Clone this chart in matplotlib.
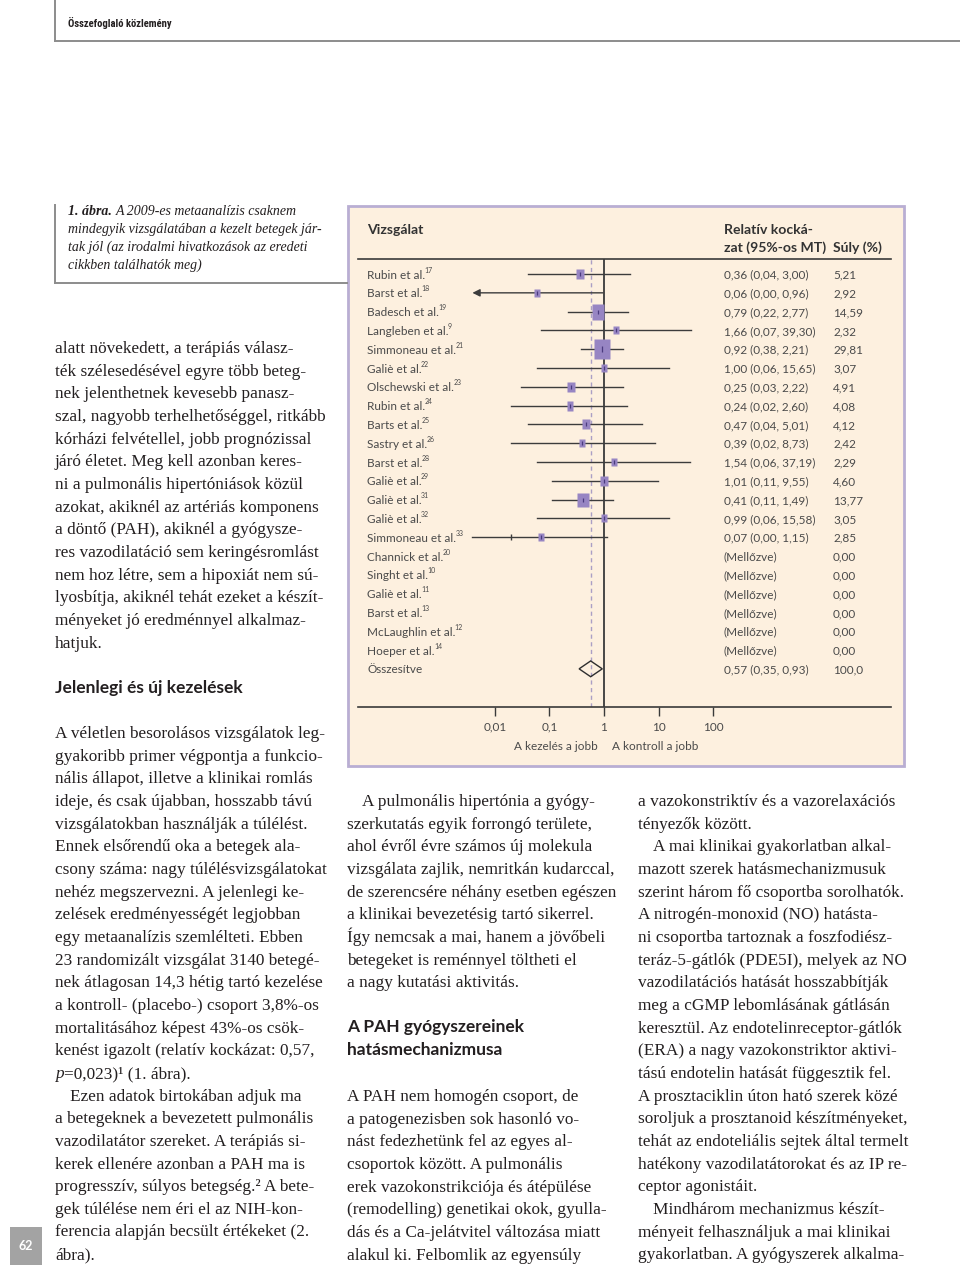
import re
import numpy as np
import matplotlib
matplotlib.use('Agg')
import matplotlib.pyplot as plt
from matplotlib import transforms
from matplotlib.font_manager import FontProperties, findfont
from matplotlib.patches import Rectangle
from matplotlib.lines import Line2D
from matplotlib.path import Path
from matplotlib.ticker import NullLocator

# ---------------- chart data ----------------
studies = ["Rubin et al.", "Barst et al.", "Badesch et al.", "Langleben et al.",
           "Simmoneau et al.", "Galiè et al.", "Olschewski et al.", "Rubin et al.",
           "Barts et al.", "Sastry et al.", "Barst et al.", "Galiè et al.",
           "Galiè et al.", "Galiè et al.", "Simmoneau et al.", "Channick et al.",
           "Singht et al.", "Galiè et al.", "Barst et al.", "McLaughlin et al.",
           "Hoeper et al."]
refs = ["17", "18", "19", "9", "21", "22", "23", "24", "25", "26", "28", "29",
        "31", "32", "33", "20", "10", "11", "13", "12", "14"]
rr = [0.36, 0.06, 0.79, 1.66, 0.92, 1.00, 0.25, 0.24, 0.47, 0.39, 1.54, 1.01,
      0.41, 0.99, 0.07]
ci_lo = [0.04, 0.00, 0.22, 0.07, 0.38, 0.06, 0.03, 0.02, 0.04, 0.02, 0.06, 0.11,
         0.11, 0.06, 0.00]
ci_hi = [3.00, 0.96, 2.77, 39.30, 2.21, 15.65, 2.22, 2.60, 5.01, 8.73, 37.19, 9.55,
         1.49, 15.58, 1.15]
weights = [5.21, 2.92, 14.59, 2.32, 29.81, 3.07, 4.91, 4.08, 4.12, 2.42, 2.29, 4.60,
           13.77, 3.05, 2.85, 0.00, 0.00, 0.00, 0.00, 0.00, 0.00]
pooled_label = "Összesítve"
pooled_rr, pooled_lo, pooled_hi, pooled_w = 0.57, 0.35, 0.93, 100.0
xticks = [0.01, 0.1, 1, 10, 100]
xtick_labels = ["0,01", "0,1", "1", "10", "100"]
excluded_text = "(Mellőzve)"
stray_tick = (14, 0.02)   # small tick seen on the Simmoneau et al.33 line

# ---------------- page text ----------------
caption_lines = ["**1. ábra.** A 2009-es metaanalízis csaknem",
                 "mindegyik vizsgálatában a kezelt betegek jár-",
                 "tak jól (az irodalmi hivatkozások az eredeti",
                 "cikkben találhatók meg)"]
left_par1 = ["alatt növekedett, a terápiás válasz-",
             "ték szélesedésével egyre több beteg-",
             "nek jelenthetnek kevesebb panasz-",
             "szal, nagyobb terhelhetőséggel, ritkább",
             "kórházi felvétellel, jobb prognózissal",
             "járó életet. Meg kell azonban keres-",
             "ni a pulmonális hipertóniások közül",
             "azokat, akiknél az artériás komponens",
             "a döntő (PAH), akiknél a gyógysze-",
             "res vazodilatáció sem keringésromlást",
             "nem hoz létre, sem a hipoxiát nem sú-",
             "lyosbítja, akiknél tehát ezeket a készít-",
             "ményeket jó eredménnyel alkalmaz-",
             "hatjuk."]
left_heading = "Jelenlegi és új kezelések"
left_par2 = ["A véletlen besorolásos vizsgálatok leg-",
             "gyakoribb primer végpontja a funkcio-",
             "nális állapot, illetve a klinikai romlás",
             "ideje, és csak újabban, hosszabb távú",
             "vizsgálatokban használják a túlélést.",
             "Ennek elsőrendű oka a betegek ala-",
             "csony száma: nagy túlélésvizsgálatokat",
             "nehéz megszervezni. A jelenlegi ke-",
             "zelések eredményességét legjobban",
             "egy metaanalízis szemlélteti. Ebben",
             "23 randomizált vizsgálat 3140 betegé-",
             "nek átlagosan 14,3 hétig tartó kezelése",
             "a kontroll- (placebo-) csoport 3,8%-os",
             "mortalitásához képest 43%-os csök-",
             "kenést igazolt (relatív kockázat: 0,57,",
             "*p*=0,023)¹ (1. ábra).",
             "\tEzen adatok birtokában adjuk ma",
             "a betegeknek a bevezetett pulmonális",
             "vazodilatátor szereket. A terápiás si-",
             "kerek ellenére azonban a PAH ma is",
             "progresszív, súlyos betegség.² A bete-",
             "gek túlélése nem éri el az NIH-kon-",
             "ferencia alapján becsült értékeket (2.",
             "ábra)."]
mid_par1 = ["\tA pulmonális hipertónia a gyógy-",
            "szerkutatás egyik forrongó területe,",
            "ahol évről évre számos új molekula",
            "vizsgálata zajlik, nemritkán kudarccal,",
            "de szerencsére néhány esetben egészen",
            "a klinikai bevezetésig tartó sikerrel.",
            "Így nemcsak a mai, hanem a jövőbeli",
            "betegeket is reménnyel töltheti el",
            "a nagy kutatási aktivitás."]
mid_heading = ["A PAH gyógyszereinek", "hatásmechanizmusa"]
mid_par2 = ["A PAH nem homogén csoport, de",
            "a patogenezisben sok hasonló vo-",
            "nást fedezhetünk fel az egyes al-",
            "csoportok között. A pulmonális",
            "erek vazokonstrikciója és átépülése",
            "(remodelling) genetikai okok, gyulla-",
            "dás és a Ca-jelátvitel változása miatt",
            "alakul ki. Felbomlik az egyensúly"]
right_par = ["a vazokonstriktív és a vazorelaxációs",
             "tényezők között.",
             "\tA mai klinikai gyakorlatban alkal-",
             "mazott szerek hatásmechanizmusuk",
             "szerint három fő csoportba sorolhatók.",
             "A nitrogén-monoxid (NO) hatásta-",
             "ni csoportba tartoznak a foszfodiész-",
             "teráz-5-gátlók (PDE5I), melyek az NO",
             "vazodilatációs hatását hosszabbítják",
             "meg a cGMP lebomlásának gátlásán",
             "keresztül. Az endotelinreceptor-gátlók",
             "(ERA) a nagy vazokonstriktor aktivi-",
             "tású endotelin hatását függesztik fel.",
             "A prosztaciklin úton ható szerek közé",
             "soroljuk a prosztanoid készítményeket,",
             "tehát az endoteliális sejtek által termelt",
             "hatékony vazodilatátorokat és az IP re-",
             "ceptor agonistáit.",
             "\tMindhárom mechanizmus készít-",
             "ményeit felhasználjuk a mai klinikai",
             "gyakorlatban. A gyógyszerek alkalma-"]
running_head = "Összefoglaló közlemény"
page_number = "62"

# ---------------- setup ----------------
W, H = 960, 1266
fig = plt.figure(figsize=(W / 100, H / 100), dpi=100)
fig.patch.set_facecolor('white')
renderer = fig.canvas.get_renderer()


def fx(x):
    return x / W


def fy(y):
    return 1 - y / H


def pick(cands):
    for c in cands:
        try:
            findfont(FontProperties(family=c), fallback_to_default=False)
            return c
        except Exception:
            pass
    return 'DejaVu Sans'


SERIF = pick(['Liberation Serif', 'DejaVu Serif'])
SANS = pick(['Lato', 'Open Sans', 'Noto Sans', 'DejaVu Sans'])
NARROW = pick(['Liberation Sans Narrow', 'Roboto Condensed', 'Liberation Sans', 'DejaVu Sans'])


def tw(s, fp):
    w, h, d = renderer.get_text_width_height_descent(s, fp, ismath=False)
    return w


def fit(s, target, **kw):
    fp = FontProperties(size=10, **kw)
    return 10 * target / tw(s, fp)


body_size = fit("azokat, akiknél az artériás komponens", 264, family=SERIF)
cap_size = fit("mindegyik vizsgálatában a kezelt betegek jár-", 254, family=SERIF, style='italic')
head_size = fit("Jelenlegi és új kezelések", 188, family=SANS, weight='bold')
panel_size = fit("0,36 (0,04, 3,00)", 84, family=SANS)
panel_bold = fit("Vizsgálat", 56, family=SANS, weight='bold')
run_size = fit(running_head, 104, family=NARROW, weight='bold')

TXT = '#231f20'
PTXT = '#4a4a4a'


def put_rich(x, yc, line, size, family, color, base_style='normal', base_weight='normal'):
    """Draw a line possibly containing **bold** / *italic* segments; yc is visual centre."""
    indent = 0
    if line.startswith('\t'):
        indent = 15
        line = line[1:]
    size_px = size * 100 / 72
    ybase = yc + 0.30 * size_px
    parts = [p for p in re.split(r'(\*\*.+?\*\*|\*.+?\*)', line) if p != '']
    sp = tw("a a", FontProperties(family=family, size=size)) - tw("aa", FontProperties(family=family, size=size))
    cx = x + indent
    for p in parts:
        style, weight = base_style, base_weight
        if p.startswith('**'):
            p = p[2:-2]
            weight = 'bold'
        elif p.startswith('*'):
            p = p[1:-1]
            style = 'italic'
        lead = len(p) - len(p.lstrip(' '))
        trail = len(p) - len(p.rstrip(' '))
        core = p.strip(' ')
        cx += lead * sp
        fp = FontProperties(family=family, size=size, style=style, weight=weight)
        fig.text(fx(cx), fy(ybase), core, fontproperties=fp, color=color, ha='left', va='baseline')
        cx += tw(core, fp) + trail * sp


def put_block(x, y0, lines, step=22.65, size=None, family=SERIF, color=TXT, **kw):
    for i, ln in enumerate(lines):
        put_rich(x, y0 + i * step, ln, size or body_size, family, color, **kw)


# ---------------- page decorations ----------------
grey = '#8c8c8c'
for xs, ys in [([55, 55], [0, 41]), ([55, 960], [41, 41]),
               ([55, 55], [205, 283]), ([55, 347], [283, 283])]:
    fig.add_artist(Line2D([fx(v) for v in xs], [fy(v) for v in ys],
                          transform=fig.transFigure, color=grey, lw=1.4))

put_rich(68, 24, running_head, run_size, NARROW, TXT, base_weight='bold')
put_block(68, 211, caption_lines, step=18, size=cap_size, base_style='italic')

put_block(55, 348, left_par1)
put_rich(55, 688, left_heading, head_size, SANS, TXT, base_weight='bold')
put_block(55, 733, left_par2)
put_block(347, 801, mid_par1)
put_block(347, 1027, mid_heading, step=23, size=head_size, family=SANS, base_weight='bold')
put_block(347, 1096, mid_par2)
put_block(638, 801, right_par)

# page number box
fig.add_artist(Rectangle((fx(10), fy(1265)), 32 / W, 38 / H, transform=fig.transFigure,
                         facecolor='#a3a3a3', edgecolor='none'))
fig.text(fx(26), fy(1246), page_number, color='white', ha='center', va='center',
         fontproperties=FontProperties(family=SANS, weight='bold', size=9))

# ---------------- forest panel ----------------
fig.add_artist(Rectangle((fx(348), fy(766)), (904 - 348) / W, (766 - 206) / H,
                         transform=fig.transFigure, facecolor='#FDF0DF',
                         edgecolor='#B9AED3', lw=2, zorder=-1))

ax = fig.add_axes([fx(358), fy(707), (891 - 358) / W, (707 - 259) / H])
ax.set_facecolor('none')
ax.set_xscale('log')
ax.set_xlim(10 ** -4.505, 10 ** 5.256)
ax.set_ylim(23.03, -0.80)
for s in ['left', 'right']:
    ax.spines[s].set_visible(False)
for s in ['top', 'bottom']:
    ax.spines[s].set_color('#3a3a3a')
    ax.spines[s].set_linewidth(1.2)
ax.set_yticks([])
ax.set_xticks(xticks, xtick_labels)
ax.xaxis.set_minor_locator(NullLocator())
ax.tick_params(axis='x', direction='out', length=6.5, width=1.0, color='#3a3a3a',
               pad=4, labelsize=panel_size, labelcolor=PTXT, labelfontfamily=SANS)

LINE = '#3c3c3c'
SQ = '#9785C3'
INNER = '#4b3b7f'
xlo_clip = 10 ** -2.41

ax.axvline(1, color='#3a3a3a', lw=1.3, zorder=1)
ax.axvline(pooled_rr, color='#ab9fc5', lw=1.0, ls=(0, (3, 2.5)), zorder=1)

rect = Path([(-0.385, -0.5), (0.385, -0.5), (0.385, 0.5), (-0.385, 0.5), (-0.385, -0.5)],
            [Path.MOVETO, Path.LINETO, Path.LINETO, Path.LINETO, Path.CLOSEPOLY])

for i in range(len(rr)):
    lo = ci_lo[i]
    if lo <= 0:
        if i == 1:
            ax.annotate('', xy=(xlo_clip, i), xytext=(ci_hi[i], i),
                        arrowprops=dict(arrowstyle='-|>', color=LINE, lw=1.0,
                                        mutation_scale=11, shrinkA=0, shrinkB=0),
                        zorder=2)
        else:
            ax.plot([xlo_clip, ci_hi[i]], [i, i], color=LINE, lw=1.0, zorder=2)
    else:
        ax.plot([lo, ci_hi[i]], [i, i], color=LINE, lw=1.0, zorder=2)
    h_px = 2.1 + 3.46 * np.sqrt(weights[i])
    ax.plot([rr[i]], [i], marker=rect, ms=h_px * 0.72, color=SQ, mec='none', zorder=3)
    ax.plot([rr[i]], [i], marker='|', ms=max(2.2, 0.32 * h_px * 0.72), mew=0.9,
            color=INNER, zorder=4)

ax.plot([stray_tick[1]], [stray_tick[0]], marker='|', ms=5, mew=1.0, color=LINE, zorder=2)

pr = len(studies)
ax.fill([pooled_lo, pooled_rr, pooled_hi, pooled_rr], [pr, pr - 0.42, pr, pr + 0.42],
        facecolor='none', edgecolor='#2f2f2f', lw=1.0, zorder=3)

# panel texts
trans = transforms.blended_transform_factory(fig.transFigure, ax.transData)
fp_p = FontProperties(family=SANS, size=panel_size)
fp_sup = FontProperties(family=SANS, size=panel_size * 0.6)
fp_b = FontProperties(family=SANS, size=panel_bold, weight='bold')


def f2(v):
    return f"{v:.2f}".replace('.', ',')


for i, name in enumerate(studies):
    ax.text(fx(367), i, name, transform=trans, fontproperties=fp_p, color=PTXT,
            ha='left', va='center_baseline')
    xs = 367 + tw(name, fp_p) - 0.6
    ax.text(fx(xs), i - 0.24, refs[i], transform=trans, fontproperties=fp_sup,
            color=PTXT, ha='left', va='center_baseline')
    if i < len(rr):
        s = f"{f2(rr[i])} ({f2(ci_lo[i])}, {f2(ci_hi[i])})"
    else:
        s = excluded_text
    ax.text(fx(724), i, s, transform=trans, fontproperties=fp_p, color=PTXT,
            ha='left', va='center_baseline')
    ax.text(fx(833), i, f2(weights[i]), transform=trans, fontproperties=fp_p,
            color=PTXT, ha='left', va='center_baseline')

ax.text(fx(367), pr, pooled_label, transform=trans, fontproperties=fp_p, color=PTXT,
        ha='left', va='center_baseline')
ax.text(fx(724), pr, f"{f2(pooled_rr)} ({f2(pooled_lo)}, {f2(pooled_hi)})", transform=trans,
        fontproperties=fp_p, color=PTXT, ha='left', va='center_baseline')
ax.text(fx(833), pr, f"{pooled_w:.1f}".replace('.', ','), transform=trans, fontproperties=fp_p,
        color=PTXT, ha='left', va='center_baseline')

# headers
fig.text(fx(367), fy(229), "Vizsgálat", fontproperties=fp_b, color='#333333',
         ha='left', va='center_baseline')
fig.text(fx(724), fy(229), "Relatív kocká-", fontproperties=fp_b, color='#333333',
         ha='left', va='center_baseline')
fig.text(fx(724), fy(247), "zat (95%-os MT)", fontproperties=fp_b, color='#333333',
         ha='left', va='center_baseline')
fig.text(fx(833), fy(247), "Súly (%)", fontproperties=fp_b, color='#333333',
         ha='left', va='center_baseline')

fig.text(fx(598), fy(746), "A kezelés a jobb", fontproperties=fp_p, color=PTXT,
         ha='right', va='center_baseline')
fig.text(fx(612), fy(746), "A kontroll a jobb", fontproperties=fp_p, color=PTXT,
         ha='left', va='center_baseline')

fig.savefig('out.png', dpi=100, facecolor='white')
